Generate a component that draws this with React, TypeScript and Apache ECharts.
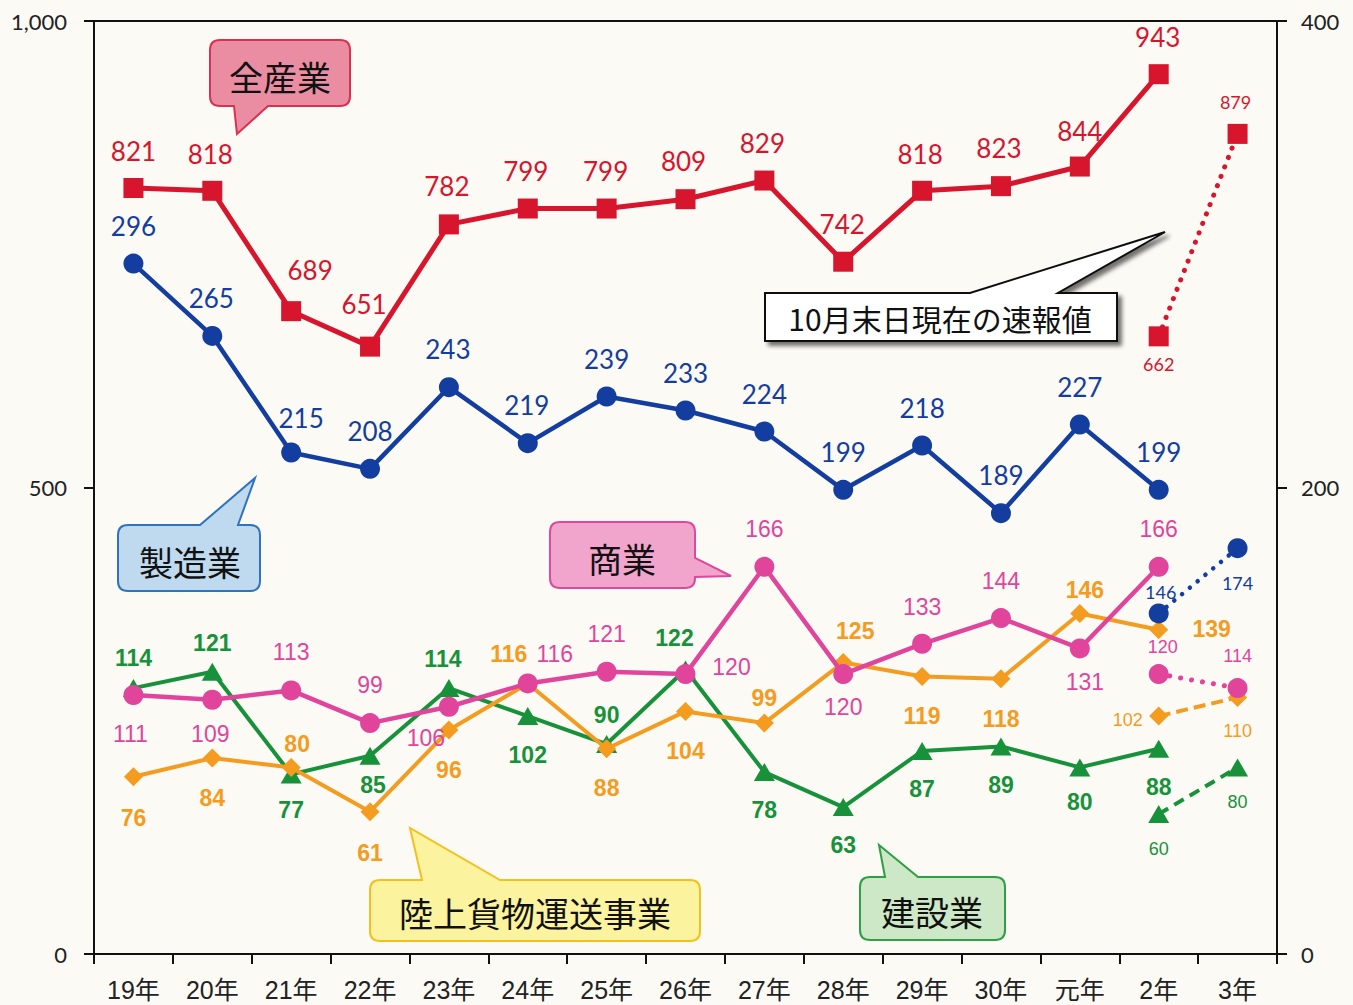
import React, { useEffect, useRef } from "react";
import * as echarts from "echarts";

// ---------- data ----------
const categories = ["19年", "20年", "21年", "22年", "23年", "24年", "25年", "26年", "27年", "28年", "29年", "30年", "元年", "2年", "3年"];
const allIndustry = [821, 818, 689, 651, 782, 799, 799, 809, 829, 742, 818, 823, 844, 943];
const allIndustryPrelim = [662, 879]; // 2年, 3年 (10月末日現在の速報値)
const manufacturing = [296, 265, 215, 208, 243, 219, 239, 233, 224, 199, 218, 189, 227, 199];
const manufacturingPrelim = [146, 174];
const commerce = [111, 109, 113, 99, 106, 116, 121, 120, 166, 120, 133, 144, 131, 166];
const commercePrelim = [120, 114];
const freight = [76, 84, 80, 61, 96, 116, 88, 104, 99, 125, 119, 118, 146, 139];
const freightPrelim = [102, 110];
const construction = [114, 121, 77, 85, 114, 102, 90, 122, 78, 63, 87, 89, 80, 88];
const constructionPrelim = [60, 80];
const leftTicks = [0, 500, 1000];
const rightTicks = [0, 200, 400];
const prelimStart = 13;

// ---------- label placement (style, offsets from marker centre) ----------
const redOff = [[0, -37], [-2, -37], [19, -41], [-6, -43], [-2, -38], [-2, -38], [-1, -38], [-2, -38], [-2, -38], [-1, -38], [-2, -37], [-2, -38], [0, -36], [-1, -37]];
const redPreOff = [[0, 28], [-2, -32]];
const blueOff = [[0, -38], [-1, -38], [10, -35], [0, -38], [-1, -38], [-1, -38], [0, -38], [0, -38], [0, -38], [0, -38], [0, -38], [0, -38], [0, -38], [0, -38]];
const bluePreOff = [[2, -21], [0, 35]];
const pinkOff = [[-3, 39], [-2, 34], [0, -38], [0, -38], [-23, 31], [27, -29], [0, -38], [46, -7], [0, -38], [0, 33], [0, -37], [0, -37], [5, 34], [0, -38]];
const pinkPreOff = [[4, -27], [0, -32]];
const orangeOff = [[0, 41], [0, 40], [6, -23], [0, 41], [0, 40], [-19, -29], [0, 39], [0, 40], [0, -25], [12, -31], [0, 40], [0, 40], [5, -23], [53, -1]];
const orangePreOff = [[-31, 4], [0, 34]];
const greenOff = [[0, -30], [0, -29], [0, 36], [3, 29], [-6, -29], [0, 39], [0, -29], [-11, -31], [0, 38], [0, 38], [0, 38], [0, 39], [0, 35], [0, 38]];
const greenPreOff = [[0, 35], [0, 35]];

const COL = {
  red: "#d7152d",
  blue: "#133d9e",
  pink: "#e0459b",
  orange: "#f49c1f",
  green: "#18923a",
};

function mkData(values: number[], offsets: number[][], start: number) {
  return categories.map((_, i) => {
    const k = i - start;
    if (k < 0 || k >= values.length) return "-";
    return { value: values[k], label: { offset: offsets[k] } };
  });
}

function bubblePath(x: number, y: number, w: number, h: number, r: number, side: string, a: number, b: number, tx: number, ty: number) {
  const p: string[] = [];
  p.push(`M ${x + r} ${y}`);
  if (side === "top") p.push(`L ${a} ${y} L ${tx} ${ty} L ${b} ${y}`);
  p.push(`L ${x + w - r} ${y}`);
  if (r > 0) p.push(`Q ${x + w} ${y} ${x + w} ${y + r}`);
  if (side === "right") p.push(`L ${x + w} ${a} L ${tx} ${ty} L ${x + w} ${b}`);
  p.push(`L ${x + w} ${y + h - r}`);
  if (r > 0) p.push(`Q ${x + w} ${y + h} ${x + w - r} ${y + h}`);
  if (side === "bottom") p.push(`L ${b} ${y + h} L ${tx} ${ty} L ${a} ${y + h}`);
  p.push(`L ${x + r} ${y + h}`);
  if (r > 0) p.push(`Q ${x} ${y + h} ${x} ${y + h - r}`);
  if (side === "left") p.push(`L ${x} ${b} L ${tx} ${ty} L ${x} ${a}`);
  p.push(`L ${x} ${y + r}`);
  if (r > 0) p.push(`Q ${x} ${y} ${x + r} ${y}`);
  p.push("Z");
  return p.join(" ");
}

const bubbles = [
  { name: "bubAll", box: [210, 40, 140, 66, 10], side: "bottom", a: 234, b: 268, tip: [237, 134], fill: "#ea8da3", stroke: "#dc3050", text: "全産業", tx: 280, ty: 76, fs: 34, shadow: false },
  { name: "bubMan", box: [118, 525, 142, 66, 10], side: "top", a: 200, b: 238, tip: [255, 478], fill: "#bfdaef", stroke: "#2f72bd", text: "製造業", tx: 190, ty: 561, fs: 34, shadow: false },
  { name: "bubCom", box: [550, 522, 145, 66, 10], side: "right", a: 558, b: 577, tip: [731, 576], fill: "#f1a5cc", stroke: "#e0489e", text: "商業", tx: 622, ty: 558, fs: 34, shadow: false },
  { name: "bubFre", box: [370, 880, 330, 61, 10], side: "top", a: 422, b: 500, tip: [410, 828], fill: "#fbf39d", stroke: "#f2c020", text: "陸上貨物運送事業", tx: 535, ty: 912, fs: 34, shadow: false },
  { name: "bubCon", box: [860, 877, 145, 63, 10], side: "top", a: 885, b: 918, tip: [879, 845], fill: "#cde8c6", stroke: "#2f9e44", text: "建設業", tx: 932, ty: 911, fs: 34, shadow: false },
  { name: "bubPre", box: [765, 293, 352, 48, 0], side: "top", a: 970, b: 1058, tip: [1165, 232], fill: "#ffffff", stroke: "#111111", text: "10月末日現在の速報値", tx: 940, ty: 318, fs: 30, shadow: true },
];

const LATO = "Lato, 'Noto Sans', sans-serif";
const ARIAL = "'Liberation Sans', Arial, sans-serif";
const CJK = "'Noto Sans CJK JP', 'Noto Sans CJK SC', sans-serif";

function line(opts: any) {
  return {
    type: "line",
    name: opts.name,
    yAxisIndex: opts.yAxisIndex,
    data: opts.data,
    symbol: opts.symbol,
    symbolSize: opts.symbolSize,
    showSymbol: true,
    connectNulls: false,
    silent: true,
    z: opts.z,
    itemStyle: { color: opts.color, opacity: 1 },
    lineStyle: { color: opts.color, width: opts.width, type: opts.lineType || "solid", cap: opts.cap || "butt", join: "round" },
    label: {
      show: true,
      position: "inside",
      color: opts.color,
      fontFamily: opts.font,
      fontSize: opts.fontSize,
      fontWeight: opts.fontWeight || "normal",
    },
    emphasis: { disabled: true },
  };
}

export default function App() {
  const ref = useRef<HTMLDivElement>(null);

  useEffect(() => {
    if (!ref.current) return;
    bubbles.forEach((bb) => {
      const [x, y, w, h, r] = bb.box;
      const d = bubblePath(x, y, w, h, r, bb.side, bb.a, bb.b, bb.tip[0], bb.tip[1]);
      echarts.graphic.registerShape(bb.name, echarts.graphic.extendPath(d, {}));
    });
    const chart = echarts.init(ref.current, undefined, { renderer: "svg" });

    const graphic: any[] = [];
    bubbles.forEach((bb) => {
      const style: any = { fill: bb.fill, stroke: bb.stroke, lineWidth: 2 };
      if (bb.shadow) {
        style.shadowBlur = 4;
        style.shadowColor = "rgba(0,0,0,0.55)";
        style.shadowOffsetX = 4;
        style.shadowOffsetY = 4;
      }
      graphic.push({ type: bb.name, x: 0, y: 0, z: 1, silent: true, style });
      graphic.push({
        type: "text",
        x: bb.tx,
        y: bb.ty,
        z: 2,
        silent: true,
        style: { text: bb.text, fill: "#111", fontSize: bb.fs, fontFamily: CJK, align: "center", verticalAlign: "middle" },
      });
    });

    const option: any = {
      animation: false,
      backgroundColor: "#fbfaf5",
      grid: { left: 94, right: 76, top: 21, bottom: 51, show: true, borderColor: "#111", borderWidth: 2, backgroundColor: "transparent" },
      xAxis: {
        type: "category",
        data: categories,
        boundaryGap: true,
        axisLine: { lineStyle: { color: "#111", width: 2 } },
        axisTick: { show: true, alignWithLabel: false, length: 10, lineStyle: { color: "#111", width: 2 } },
        axisLabel: { color: "#222", fontSize: 25, fontFamily: `'Liberation Sans', ${CJK}`, margin: 23 },
        splitLine: { show: false },
      },
      yAxis: [
        {
          type: "value",
          min: leftTicks[0],
          max: leftTicks[leftTicks.length - 1],
          interval: leftTicks[1] - leftTicks[0],
          position: "left",
          axisLine: { show: true, lineStyle: { color: "#111", width: 2 } },
          axisTick: { show: true, length: 10, lineStyle: { color: "#111", width: 2 } },
          axisLabel: {
            color: "#222",
            fontSize: 22,
            fontFamily: LATO,
            margin: 27,
            formatter: (v: number) => v.toLocaleString("en-US"),
          },
          splitLine: { show: false },
        },
        {
          type: "value",
          min: rightTicks[0],
          max: rightTicks[rightTicks.length - 1],
          interval: rightTicks[1] - rightTicks[0],
          position: "right",
          axisLine: { show: true, lineStyle: { color: "#111", width: 2 } },
          axisTick: { show: true, length: 10, lineStyle: { color: "#111", width: 2 } },
          axisLabel: { color: "#222", fontSize: 22, fontFamily: LATO, margin: 24 },
          splitLine: { show: false },
        },
      ],
      graphic,
      series: [
        line({ name: "建設業", yAxisIndex: 1, data: mkData(construction, greenOff, 0), symbol: "triangle", symbolSize: [21, 18], color: COL.green, width: 4, font: ARIAL, fontSize: 23, fontWeight: "bold", z: 3 }),
        line({ name: "陸上貨物運送事業", yAxisIndex: 1, data: mkData(freight, orangeOff, 0), symbol: "diamond", symbolSize: [19, 19], color: COL.orange, width: 4, font: ARIAL, fontSize: 23, fontWeight: "bold", z: 4 }),
        line({ name: "商業", yAxisIndex: 1, data: mkData(commerce, pinkOff, 0), symbol: "circle", symbolSize: 20, color: COL.pink, width: 4.5, font: ARIAL, fontSize: 23, z: 5 }),
        line({ name: "製造業", yAxisIndex: 1, data: mkData(manufacturing, blueOff, 0), symbol: "circle", symbolSize: 20, color: COL.blue, width: 4.5, font: LATO, fontSize: 26, z: 6 }),
        line({ name: "全産業", yAxisIndex: 0, data: mkData(allIndustry, redOff, 0), symbol: "rect", symbolSize: 20, color: COL.red, width: 5, font: LATO, fontSize: 26, z: 7 }),
        line({ name: "建設業速報", yAxisIndex: 1, data: mkData(constructionPrelim, greenPreOff, prelimStart), symbol: "triangle", symbolSize: [21, 18], color: COL.green, width: 4, lineType: [11, 7], font: ARIAL, fontSize: 18, z: 3 }),
        line({ name: "陸上速報", yAxisIndex: 1, data: mkData(freightPrelim, orangePreOff, prelimStart), symbol: "diamond", symbolSize: [19, 19], color: COL.orange, width: 4, lineType: [12, 6], font: ARIAL, fontSize: 18, z: 4 }),
        line({ name: "商業速報", yAxisIndex: 1, data: mkData(commercePrelim, pinkPreOff, prelimStart), symbol: "circle", symbolSize: 20, color: COL.pink, width: 5, lineType: [0.1, 11], cap: "round", font: ARIAL, fontSize: 18, z: 5 }),
        line({ name: "製造業速報", yAxisIndex: 1, data: mkData(manufacturingPrelim, bluePreOff, prelimStart), symbol: "circle", symbolSize: 20, color: COL.blue, width: 4.5, lineType: [0.1, 10], cap: "round", font: LATO, fontSize: 18, z: 6 }),
        line({ name: "全産業速報", yAxisIndex: 0, data: mkData(allIndustryPrelim, redPreOff, prelimStart), symbol: "rect", symbolSize: 20, color: COL.red, width: 5, lineType: [0.1, 10], cap: "round", font: LATO, fontSize: 18, z: 7 }),
      ],
    };
    chart.setOption(option);
    return () => chart.dispose();
  }, []);

  return (
    <div style={{ position: "absolute", left: 0, top: 0, width: 1353, height: 1005, background: "#fbfaf5" }}>
      <div ref={ref} style={{ width: 1353, height: 1005 }} />
    </div>
  );
}
